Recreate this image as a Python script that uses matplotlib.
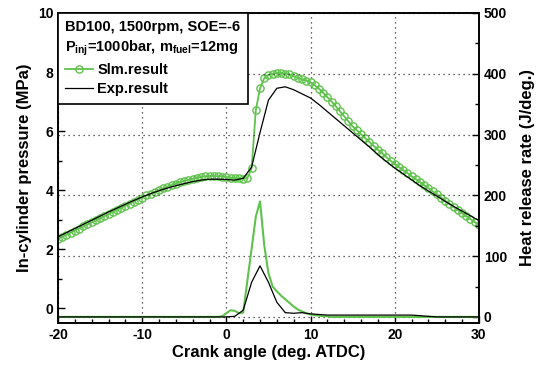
import numpy as np
import matplotlib
matplotlib.use("Agg")
import matplotlib.pyplot as plt
from matplotlib.ticker import MultipleLocator

plt.rcParams["font.family"] = ["Liberation Sans", "DejaVu Sans"]
plt.rcParams["font.weight"] = "bold"
plt.rcParams["axes.unicode_minus"] = False
plt.rcParams["mathtext.fontset"] = "custom"
plt.rcParams["mathtext.rm"] = "Liberation Sans:bold"
plt.rcParams["mathtext.it"] = "Liberation Sans:bold"
plt.rcParams["mathtext.bf"] = "Liberation Sans:bold"

# crank angle grids
ca_sim = np.arange(-20, 30.01, 0.5)
ca_exp = np.arange(-20, 31, 1)

# simulated cylinder pressure (MPa), every 0.5 deg
p_sim = [2.35, 2.42, 2.49, 2.56, 2.63, 2.70, 2.77, 2.84, 2.91, 2.98,
         3.05, 3.12, 3.19, 3.26, 3.33, 3.40, 3.47, 3.54, 3.61, 3.68,
         3.75, 3.82, 3.88, 3.94, 4.00, 4.06, 4.12, 4.17, 4.22, 4.27,
         4.31, 4.35, 4.39, 4.42, 4.45, 4.47, 4.48, 4.48, 4.47, 4.46,
         4.44, 4.42, 4.41, 4.40, 4.39, 4.40, 4.74, 6.71, 7.45, 7.79,
         7.90, 7.95, 7.97, 7.97, 7.95, 7.92, 7.86, 7.80, 7.75, 7.71,
         7.65, 7.55, 7.44, 7.30, 7.15, 7.00, 6.84, 6.67, 6.50, 6.33,
         6.16, 6.03, 5.89, 5.76, 5.63, 5.50, 5.37, 5.25, 5.12, 5.00,
         4.88, 4.78, 4.68, 4.58, 4.47, 4.37, 4.27, 4.17, 4.07, 3.96,
         3.86, 3.75, 3.64, 3.54, 3.43, 3.33, 3.22, 3.12, 3.02, 2.92,
         2.82]

# simulated heat release rate (J/deg), every 0.5 deg
hrr_sim = [0] * 39 + [1, 6, 11, 10, 6, 7, 60, 112, 165, 190, 118,
           72, 50, 42, 35, 29, 23, 17, 12, 9, 6,
           4, 3, 2, 1, 1] + [0] * 36

# measured cylinder pressure (MPa), every 1 deg
p_exp = [2.42, 2.56, 2.70, 2.84, 2.98, 3.12, 3.26, 3.39, 3.52, 3.65,
         3.77, 3.88, 3.98, 4.07, 4.15, 4.22, 4.29, 4.34, 4.37, 4.37,
         4.36, 4.34, 4.40, 4.78, 5.95, 7.05, 7.45, 7.50, 7.40, 7.26,
         7.12, 6.90, 6.66, 6.42, 6.18, 5.94, 5.70, 5.46, 5.20, 4.97,
         4.75, 4.55, 4.35, 4.15, 3.97, 3.80, 3.62, 3.45, 3.29, 3.13,
         2.97]

# measured heat release rate (J/deg), every 1 deg
hrr_exp = [0] * 21 + [1, 11, 57, 84, 57, 24, 7, 6, 7, 5,
           4, 3, 3, 3, 3, 3, 3, 3, 3, 3, 3, 3, 2, 1, 0, 0, 0, 0, 0, 0]

green = "#5fc24c"

fig = plt.figure(figsize=(5.41, 3.71), dpi=100)
ax = fig.add_axes([0.1072, 0.1294, 0.778, 0.8356])
ax2 = ax.twinx()

ax.plot(ca_sim, p_sim, color=green, lw=1.3, marker="o", ms=5.2,
        mfc="none", mec=green, mew=1.0, label="Slm.result")
ax.plot(ca_exp, p_exp, color="black", lw=0.9, label="Exp.result")

ax2.plot(ca_sim, hrr_sim, color=green, lw=1.5)
ax2.plot(ca_exp, hrr_exp, color="black", lw=0.9)

ax.set_xlim(-20, 30)
ax.set_ylim(-0.5, 10)
ax2.set_ylim(-10, 500)

ax.xaxis.set_major_locator(MultipleLocator(10))
ax.xaxis.set_minor_locator(MultipleLocator(2))
ax.yaxis.set_major_locator(MultipleLocator(2))
ax.yaxis.set_minor_locator(MultipleLocator(1))
ax2.yaxis.set_major_locator(MultipleLocator(100))
ax2.yaxis.set_minor_locator(MultipleLocator(50))

for a in (ax, ax2):
    a.tick_params(which="both", direction="in", width=1.0, labelsize=10)
    a.tick_params(which="major", length=5)
    a.tick_params(which="minor", length=3)
    for s in a.spines.values():
        s.set_linewidth(1.2)

ax.grid(axis="x", linestyle=(0, (1, 3)), color="#333333", lw=0.9)
ax2.grid(axis="y", linestyle=(0, (1, 3)), color="#333333", lw=0.9)

ax.set_xlabel("Crank angle (deg. ATDC)", fontsize=12, fontweight="bold", labelpad=2)
ax.set_ylabel("In-cylinder pressure (MPa)", fontsize=12, fontweight="bold", labelpad=4)
ax2.set_ylabel("Heat release rate (J/deg.)", fontsize=12, fontweight="bold", labelpad=9)

handles, labels = ax.get_legend_handles_labels()
leg = ax2.legend(handles, labels, loc="upper left", borderaxespad=0,
                 title="BD100, 1500rpm, SOE=-6\n$P_{inj}$=1000bar, $m_{fuel}$=12mg",
                 title_fontproperties={"weight": "bold", "size": 10.5},
                 prop={"weight": "bold", "size": 10.5}, alignment="left",
                 numpoints=1, handlelength=1.9, handletextpad=0.3,
                 labelspacing=0.35, fancybox=False, framealpha=1,
                 edgecolor="black", borderpad=0.5)
leg.get_frame().set_linewidth(1.2)
leg.get_title().set_linespacing(1.35)

fig.savefig("out.png", dpi=100)
